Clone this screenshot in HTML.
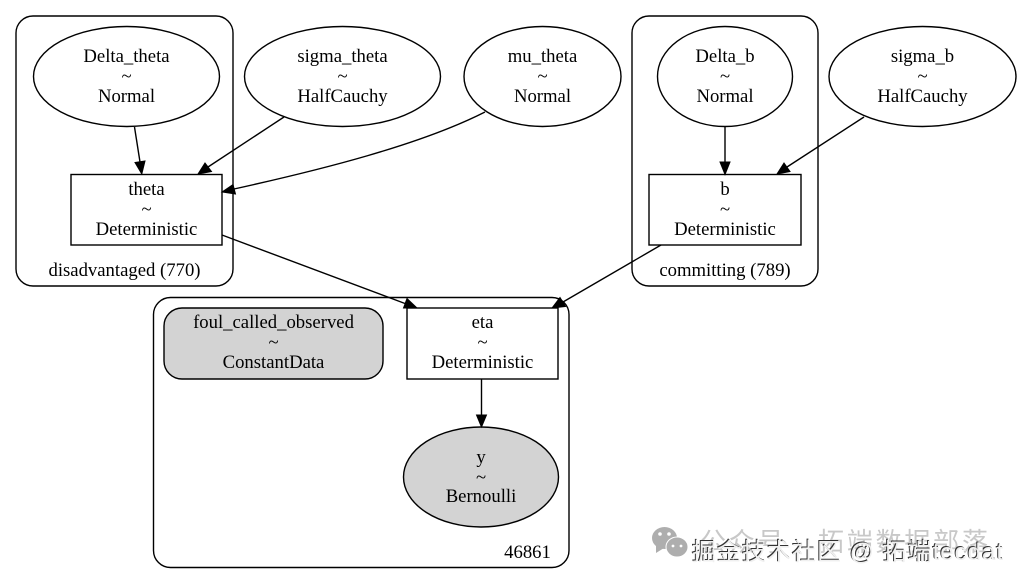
<!DOCTYPE html>
<html><head><meta charset="utf-8"><style>
html,body{margin:0;padding:0;background:#fff;width:1021px;height:584px;overflow:hidden}
svg{display:block}
.t{font-family:"Liberation Serif",serif;font-size:18.7px;fill:#000;text-anchor:middle}
.s{fill:none;stroke:#000;stroke-width:1.4}
.e{fill:none;stroke:#000;stroke-width:1.4}
.a{fill:#000;stroke:#000;stroke-width:1}
.w{font-family:"Liberation Sans","Noto Sans CJK SC",sans-serif}
</style></head><body>
<svg width="1021" height="584" viewBox="0 0 1021 584" xmlns="http://www.w3.org/2000/svg">
<rect width="1021" height="584" fill="#fff"/>
<rect class="s" x="16" y="16" width="217" height="270" rx="17"/>
<rect class="s" x="632" y="16" width="186" height="270" rx="17"/>
<rect class="s" x="153.5" y="297.5" width="415.5" height="270" rx="17"/>

<ellipse class="s" cx="126.5" cy="76.5" rx="93" ry="50"/>
<ellipse class="s" cx="342.5" cy="76.5" rx="98" ry="50"/>
<ellipse class="s" cx="542.5" cy="76.5" rx="78.5" ry="50"/>
<ellipse class="s" cx="725" cy="76.5" rx="67.5" ry="50"/>
<ellipse class="s" cx="922.5" cy="76.5" rx="93.5" ry="50"/>
<rect class="s" x="71" y="174.5" width="151" height="70.5"/>
<rect class="s" x="649" y="174.5" width="152" height="70.5"/>
<rect class="s" x="407" y="308" width="151" height="71"/>
<rect x="164" y="308" width="219" height="71" rx="18" fill="#d3d3d3" stroke="#000" stroke-width="1.4"/>
<ellipse cx="481" cy="477" rx="77.5" ry="50" fill="#d3d3d3" stroke="#000" stroke-width="1.4"/>

<path class="e" d="M134.500 127L140 162"/><polygon class="a" points="141.800,174 135,162.500 145,161"/>
<path class="e" d="M284 117L208 167"/><polygon class="a" points="198,174 205,163 211.500,171.500"/>
<path class="e" d="M485 112C420 145 320 170 234 189"/><polygon class="a" points="222,192 233,184.500 235.500,194"/>
<path class="e" d="M222 235L405 303.500"/><polygon class="a" points="417,308 403.500,308 407,298.500"/>
<path class="e" d="M661 245L563 302"/><polygon class="a" points="552,308 560,297.500 565.500,306.500"/>
<path class="e" d="M725 127V162"/><polygon class="a" points="725,174.500 720,162 730,162"/>
<path class="e" d="M864 117L787 167"/><polygon class="a" points="777,174 784,163 790,171.500"/>
<path class="e" d="M481.500 379V415"/><polygon class="a" points="481.500,427 476.500,415 486.500,415"/>

<g class="t">
<text x="126.500" y="62">Delta_theta</text><text x="126.500" y="82">~</text><text x="126.500" y="102">Normal</text>
<text x="342.500" y="62">sigma_theta</text><text x="342.500" y="82">~</text><text x="342.500" y="102">HalfCauchy</text>
<text x="542.500" y="62">mu_theta</text><text x="542.500" y="82">~</text><text x="542.500" y="102">Normal</text>
<text x="725" y="62">Delta_b</text><text x="725" y="82">~</text><text x="725" y="102">Normal</text>
<text x="922.500" y="62">sigma_b</text><text x="922.500" y="82">~</text><text x="922.500" y="102">HalfCauchy</text>
<text x="146.500" y="195">theta</text><text x="146.500" y="215">~</text><text x="146.500" y="235">Deterministic</text>
<text x="725" y="195">b</text><text x="725" y="215">~</text><text x="725" y="235">Deterministic</text>
<text x="482.500" y="328">eta</text><text x="482.500" y="348">~</text><text x="482.500" y="368">Deterministic</text>
<text x="273.500" y="328">foul_called_observed</text><text x="273.500" y="348">~</text><text x="273.500" y="368">ConstantData</text>
<text x="481" y="463">y</text><text x="481" y="483">~</text><text x="481" y="502">Bernoulli</text>
<text x="124.500" y="276">disadvantaged (770)</text>
<text x="725" y="276">committing (789)</text>
<text x="527.500" y="558">46861</text>
</g>

<g fill="#aeaeae">
<ellipse cx="664.500" cy="538" rx="12.500" ry="11"/><polygon points="656,545 656,553 664,548"/>
<ellipse cx="677" cy="547" rx="11" ry="10" stroke="#fff" stroke-width="1"/>
</g>
<g fill="#fff"><circle cx="660" cy="534" r="1.800"/><circle cx="669" cy="534" r="1.800"/><circle cx="673" cy="546" r="1.400"/><circle cx="681" cy="546" r="1.400"/></g>
<text class="w" x="700" y="551" font-size="26" fill="#c8c8c8" textLength="288" lengthAdjust="spacing">公众号 · 拓端数据部落</text>
<text class="w" x="691" y="559" font-size="24" fill="#333" textLength="311" lengthAdjust="spacing">掘金技术社区 @ 拓端tecdat</text>
<text class="w" x="692" y="560" font-size="24" fill="#f0f0f0" textLength="311" lengthAdjust="spacing">掘金技术社区 @ 拓端tecdat</text>
</svg>
</body></html>
